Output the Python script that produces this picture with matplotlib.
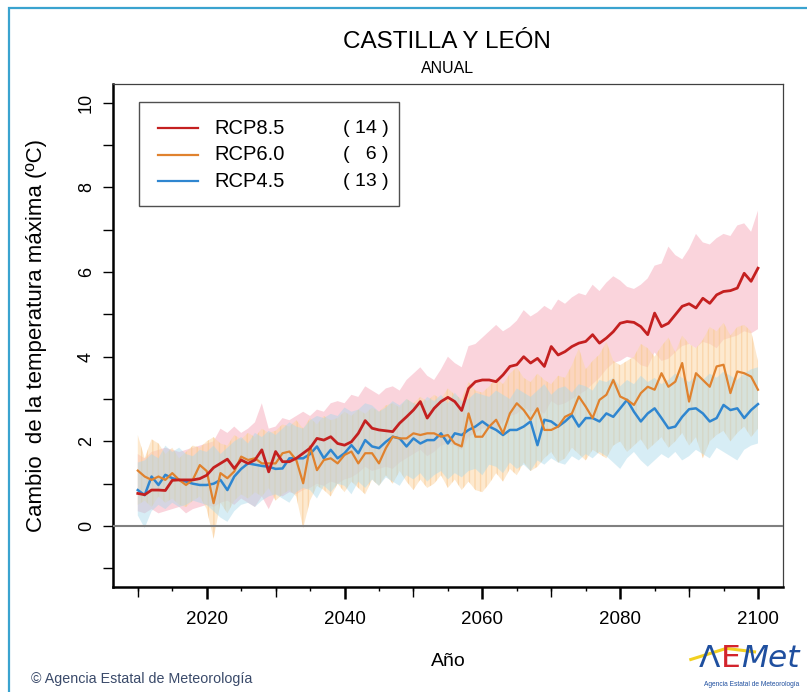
import matplotlib
matplotlib.use("Agg")
import matplotlib.pyplot as plt
import matplotlib.patches as patches
from matplotlib.lines import Line2D

plt.rcParams['font.family'] = ['Liberation Sans', 'DejaVu Sans']
plt.rcParams['hatch.linewidth'] = 1.0

years = list(range(2010, 2101))

# medias anuales (ºC)
rcp85 = [0.77, 0.74, 0.85, 0.85, 0.84, 1.08, 1.09, 1.09, 1.09, 1.12,
         1.20, 1.38, 1.48, 1.58, 1.36, 1.56, 1.48, 1.56, 1.80, 1.28,
         1.76, 1.52, 1.52, 1.60, 1.72, 1.84, 2.07, 2.03, 2.11, 1.95,
         1.91, 1.99, 2.19, 2.49, 2.31, 2.27, 2.25, 2.23, 2.43, 2.58,
         2.74, 2.94, 2.55, 2.78, 2.94, 3.04, 2.94, 2.73, 3.25, 3.41,
         3.45, 3.45, 3.41, 3.57, 3.77, 3.81, 4.00, 3.85, 3.96, 3.77,
         4.24, 4.04, 4.12, 4.24, 4.32, 4.36, 4.52, 4.32, 4.44, 4.59,
         4.79, 4.83, 4.81, 4.71, 4.52, 5.03, 4.71, 4.79, 4.99, 5.19,
         5.25, 5.15, 5.38, 5.26, 5.46, 5.54, 5.56, 5.62, 5.97, 5.78,
         6.09]
rcp60 = [1.31, 1.17, 1.09, 1.17, 1.09, 1.25, 1.09, 0.97, 1.10, 1.44,
         1.30, 0.54, 1.25, 1.13, 1.29, 1.64, 1.56, 1.60, 1.48, 1.48,
         1.48, 1.72, 1.76, 1.56, 1.01, 1.88, 1.32, 1.56, 1.60, 1.48,
         1.68, 1.76, 1.48, 1.72, 1.72, 1.48, 1.84, 2.11, 2.07, 2.07,
         2.19, 2.15, 2.19, 2.19, 2.11, 2.15, 1.95, 1.88, 2.66, 2.11,
         2.11, 2.35, 2.51, 2.19, 2.66, 2.90, 2.74, 2.51, 2.78, 2.27,
         2.27, 2.35, 2.58, 2.66, 3.06, 2.82, 2.55, 2.98, 3.10, 3.45,
         3.06, 2.98, 2.86, 3.14, 3.29, 3.22, 3.61, 3.29, 3.41, 3.85,
         2.94, 3.61, 3.45, 3.29, 3.77, 3.81, 3.14, 3.65, 3.61, 3.53,
         3.22]
rcp45 = [0.85, 0.73, 1.17, 0.97, 1.21, 1.13, 1.09, 1.05, 1.00, 0.97,
         0.97, 1.00, 1.09, 0.85, 1.17, 1.35, 1.48, 1.45, 1.42, 1.40,
         1.35, 1.36, 1.60, 1.60, 1.60, 1.70, 1.88, 1.60, 1.80, 1.60,
         1.72, 1.91, 1.72, 2.03, 1.88, 1.84, 1.99, 2.11, 2.07, 1.88,
         2.07, 1.95, 2.03, 2.03, 2.19, 1.95, 2.19, 2.15, 2.27, 2.35,
         2.47, 2.35, 2.27, 2.15, 2.27, 2.27, 2.35, 2.47, 1.91, 2.51,
         2.47, 2.35, 2.47, 2.62, 2.35, 2.55, 2.55, 2.47, 2.66, 2.58,
         2.78, 2.98, 2.70, 2.47, 2.66, 2.78, 2.55, 2.31, 2.35, 2.58,
         2.76, 2.78, 2.66, 2.47, 2.55, 2.86, 2.74, 2.78, 2.55, 2.74,
         2.88]

# dispersion de los modelos (limites superior / inferior)
rcp85_hi = [1.70, 1.60, 1.75, 1.80, 1.85, 1.80, 1.75, 1.80, 1.85, 1.90,
            1.95, 2.00, 2.30, 2.20, 2.35, 2.20, 2.30, 2.45, 2.90, 2.30,
            2.35, 2.55, 2.50, 2.60, 2.70, 2.60, 2.75, 2.70, 2.90, 2.95,
            2.90, 3.10, 3.05, 3.30, 3.20, 3.10, 3.25, 3.30, 3.20, 3.45,
            3.60, 3.75, 3.55, 3.45, 3.70, 4.00, 3.85, 3.75, 4.25, 4.30,
            4.45, 4.60, 4.75, 4.60, 4.70, 4.85, 5.10, 4.95, 5.05, 5.20,
            5.10, 5.35, 5.25, 5.40, 5.50, 5.45, 5.70, 5.55, 5.75, 5.90,
            5.80, 5.65, 5.60, 5.70, 5.85, 6.15, 6.20, 6.60, 6.40, 6.30,
            6.55, 6.90, 6.70, 6.65, 6.80, 6.90, 6.85, 7.10, 7.15, 6.95,
            7.45]
rcp85_lo = [0.35, 0.30, 0.40, 0.30, 0.35, 0.40, 0.45, 0.30, 0.40, 0.45,
            0.50, 0.45, 0.55, 0.60, 0.50, 0.65, 0.55, 0.45, 0.70, 0.40,
            0.75, 0.70, 0.80, 0.75, 0.85, 0.90, 1.00, 0.95, 1.05, 1.00,
            1.10, 1.15, 1.25, 1.40, 1.30, 1.35, 1.40, 1.35, 1.50, 1.60,
            1.70, 1.80, 1.65, 1.75, 1.90, 1.95, 1.90, 1.80, 2.10, 2.20,
            2.30, 2.35, 2.30, 2.45, 2.60, 2.65, 2.80, 2.70, 2.75, 2.65,
            2.95, 2.85, 2.90, 3.00, 3.10, 3.20, 3.35, 3.50, 3.70, 3.85,
            3.90, 4.00, 3.95, 3.80, 3.75, 4.10, 3.90, 3.95, 4.10, 4.25,
            4.30, 4.20, 4.35, 4.30, 4.20, 4.40, 4.45, 4.50, 4.60, 4.55,
            4.65]
rcp60_hi = [2.15, 1.60, 2.05, 1.95, 1.70, 1.85, 1.60, 1.75, 1.90, 1.85,
            2.00, 2.10, 1.95, 1.90, 2.15, 2.05, 2.20, 2.10, 2.30, 2.20,
            2.25, 2.40, 2.35, 2.50, 2.30, 2.55, 2.40, 2.60, 2.50, 2.55,
            2.70, 2.60, 2.75, 2.65, 2.80, 2.70, 2.85, 2.90, 2.80, 3.00,
            2.90, 3.05, 2.95, 3.10, 3.00, 3.25, 3.10, 3.00, 3.40, 3.20,
            3.15, 3.30, 3.50, 3.35, 3.60, 3.75, 3.50, 3.40, 3.60, 3.45,
            3.35, 3.55, 3.50, 3.80, 4.20, 3.70, 3.90, 4.05, 4.35, 3.90,
            3.80, 3.90, 4.00, 4.30, 4.20, 4.00, 4.25, 4.45, 4.10, 4.50,
            4.30, 4.20, 4.40, 4.70, 4.60, 4.80, 4.50, 4.70, 4.75, 4.60,
            3.90]
rcp60_lo = [0.50, 0.60, 0.45, 0.70, 0.55, 0.65, 0.50, 0.45, 0.60, 0.70,
            0.40, -0.30, 0.55, 0.30, 0.60, 0.75, 0.65, 0.80, 0.70, 0.90,
            0.60, 0.75, 0.85, 0.70, -0.05, 0.60, 0.95, 0.85, 0.70, 1.00,
            0.80, 1.05, 0.90, 0.75, 1.10, 0.95, 1.20, 1.00, 1.30, 1.05,
            0.85, 1.10, 0.90, 1.00, 1.20, 0.90, 1.10, 0.85, 1.05, 0.85,
            0.80, 1.00, 1.25, 1.05, 1.35, 1.20, 1.50, 1.30, 1.40, 1.60,
            1.75, 1.50, 1.60, 1.85, 1.70, 1.55, 1.80, 1.70, 1.60, 1.90,
            2.00, 1.75, 1.90, 2.05, 1.80, 1.95, 2.10, 1.85, 2.00, 2.20,
            1.90, 2.10, 1.60, 2.00, 2.15, 2.25, 2.00, 2.20, 2.35, 2.10,
            2.30]
rcp45_hi = [1.50, 1.55, 1.70, 1.60, 1.90, 1.75, 1.85, 1.70, 1.65, 1.80,
            1.75, 1.90, 1.70, 1.85, 2.00, 2.10, 1.95, 2.20, 2.10, 2.25,
            2.15, 2.30, 2.45, 2.35, 2.30, 2.50, 2.60, 2.55, 2.65, 2.60,
            2.80, 2.70, 2.75, 2.90, 2.85, 2.70, 2.80, 2.95, 2.85, 3.00,
            2.90, 2.85, 3.05, 2.95, 3.10, 2.90, 3.15, 2.95, 3.00, 3.15,
            3.10, 3.05, 3.20, 3.10, 3.00, 3.25, 3.15, 3.05, 3.20, 3.35,
            3.10, 3.25, 3.30, 3.15, 3.35, 3.30, 3.20, 3.45, 3.40, 3.50,
            3.30, 3.45, 3.35, 3.55, 3.40, 3.50, 3.35, 3.45, 3.60, 3.50,
            3.40, 3.55, 3.45, 3.60, 3.50, 3.65, 3.55, 3.45, 3.60, 3.70,
            3.75]
rcp45_lo = [0.25, -0.05, 0.35, 0.50, 0.40, 0.55, 0.45, 0.50, 0.60, 0.55,
            0.50, 0.35, 0.20, 0.10, 0.35, 0.50, 0.55, 0.45, 0.60, 0.70,
            0.75, 0.65, 0.55, 0.80, 0.90, 0.85, 0.65, 0.95, 0.80, 1.00,
            0.95, 0.75, 1.05, 0.90, 1.10, 0.95, 1.15, 1.05, 0.95, 1.20,
            1.10, 1.25, 1.05, 1.20, 1.30, 1.10, 1.25, 1.15, 1.30, 1.35,
            1.20, 1.45, 1.40, 1.25, 1.50, 1.35, 1.45, 1.30, 1.55, 1.45,
            1.60, 1.50, 1.45, 1.65, 1.55, 1.70, 1.60, 1.75, 1.65, 1.50,
            1.35, 1.60, 1.75, 1.55, 1.40, 1.55, 1.70, 1.60, 1.75, 1.55,
            1.65, 1.80, 1.70, 1.60, 1.85, 1.75, 1.65, 1.55, 1.80, 1.90,
            1.95]

labels = ['RCP8.5', 'RCP6.0', 'RCP4.5']
n_models = ['( 14 )', '(   6 )', '( 13 )']

fig = plt.figure(figsize=(8.07, 6.92), dpi=100)
ax = fig.add_axes([0.140, 0.1517, 0.830, 0.7269])

# bandas
ax.fill_between(years, rcp85_lo, rcp85_hi, facecolor='#f7b8c6', alpha=0.6, lw=0)
ax.fill_between(years, rcp60_lo, rcp60_hi, facecolor='#fcd7a8', alpha=0.55,
                hatch='|||', edgecolor='#f8c890', lw=0)
ax.fill_between(years, rcp45_lo, rcp45_hi, facecolor='#a8d8ea', alpha=0.45, lw=0)

ax.axhline(0, color='#808080', lw=1.5, zorder=3)

ax.plot(years, rcp45, color='#2f86d0', lw=1.8, zorder=4)
ax.plot(years, rcp60, color='#e0822e', lw=1.6, zorder=4)
ax.plot(years, rcp85, color='#c42020', lw=2.0, zorder=5)

ax.set_xlim(2006.4, 2103.6)
ax.set_ylim(-1.44, 10.44)

# ejes al estilo R
ax.set_yticks(range(-1, 11))
ax.set_yticklabels(['' if v % 2 else str(v) for v in range(-1, 11)],
                   rotation=90, va='center', fontsize=13)
ax.tick_params(axis='y', length=7, width=1.0, pad=6)
ax.set_xticks(range(2020, 2101, 20))
ax.set_xticklabels([str(v) for v in range(2020, 2101, 20)], fontsize=13.5)
ax.set_xticks(range(2010, 2101, 5), minor=True)
ax.tick_params(axis='x', which='major', length=8.5, width=1.8, pad=9)
ax.tick_params(axis='x', which='minor', length=3, width=1.0)
sec = ax.secondary_xaxis('bottom')
sec.set_xticks(range(2010, 2100, 20))
sec.set_xticklabels([])
sec.tick_params(length=7.5, width=1.0)
sec.spines['bottom'].set_visible(False)

for s in ['top', 'right']:
    ax.spines[s].set_linewidth(0.9)
    ax.spines[s].set_color('#404040')
for s in ['left', 'bottom']:
    ax.spines[s].set_linewidth(1.8)
    ax.spines[s].set_color('black')

ax.set_xlabel('Año', fontsize=14, labelpad=18)
ax.set_ylabel('Cambio  de la temperatura máxima (ºC)', fontsize=16, labelpad=22)

# leyenda
colors = ['#c42020', '#e0822e', '#2f86d0']
ax.add_patch(patches.Rectangle((0.0388, 0.757), 0.388, 0.207, transform=ax.transAxes,
                               fill=True, facecolor='white', edgecolor='#505050',
                               lw=1.0, zorder=6))
rows = [0.9125, 0.859, 0.807]
for lab, cnt, col, yy in zip(labels, n_models, colors, rows):
    ax.plot([0.0672, 0.1269], [yy, yy], color=col, lw=1.6, transform=ax.transAxes, zorder=7)
    ax.text(0.152, yy, lab, transform=ax.transAxes, fontsize=14.5, va='center', zorder=7)
    ax.text(0.411, yy, cnt, transform=ax.transAxes, fontsize=14, va='center',
            ha='right', zorder=7)

# titulos
fig.text(0.554, 0.939, 'CASTILLA Y LEÓN', ha='center', va='center', fontsize=17.5)
fig.text(0.554, 0.901, 'ANUAL', ha='center', va='center', fontsize=11.5)

# marco exterior
fig.patches.append(patches.Rectangle((0.011, -0.05), 1.2, 1.038, transform=fig.transFigure,
                                     fill=False, edgecolor='#3aa3cf', lw=1.6))

# pie
fig.text(0.038, 0.019, '© Agencia Estatal de Meteorología', fontsize=10.3,
         color='#3a4a6a', va='center')

# logo aproximado
fig.canvas.draw()
renderer = fig.canvas.get_renderer()
xpos = 0.866
base = 0.027
for part, col, st in [('Λ', '#1f4f9f', 'normal'), ('E', '#d3242c', 'normal'),
                      ('Met', '#1f4f9f', 'italic')]:
    t = fig.text(xpos, base, part, fontsize=22.5, color=col, style=st, va='bottom',
                 family=['DejaVu Sans'])
    bb = t.get_window_extent(renderer)
    xpos = (bb.x1 + 0.5) / fig.bbox.width
fig.add_artist(Line2D([0.856, 0.900, 0.935], [0.047, 0.063, 0.058], color='#f2d020',
                      lw=2.2, transform=fig.transFigure, zorder=0))
fig.text(0.932, 0.011, 'Agencia Estatal de Meteorología', fontsize=4.8, color='#1f4f9f',
         ha='center', va='center')

fig.savefig('out.png', dpi=100)
